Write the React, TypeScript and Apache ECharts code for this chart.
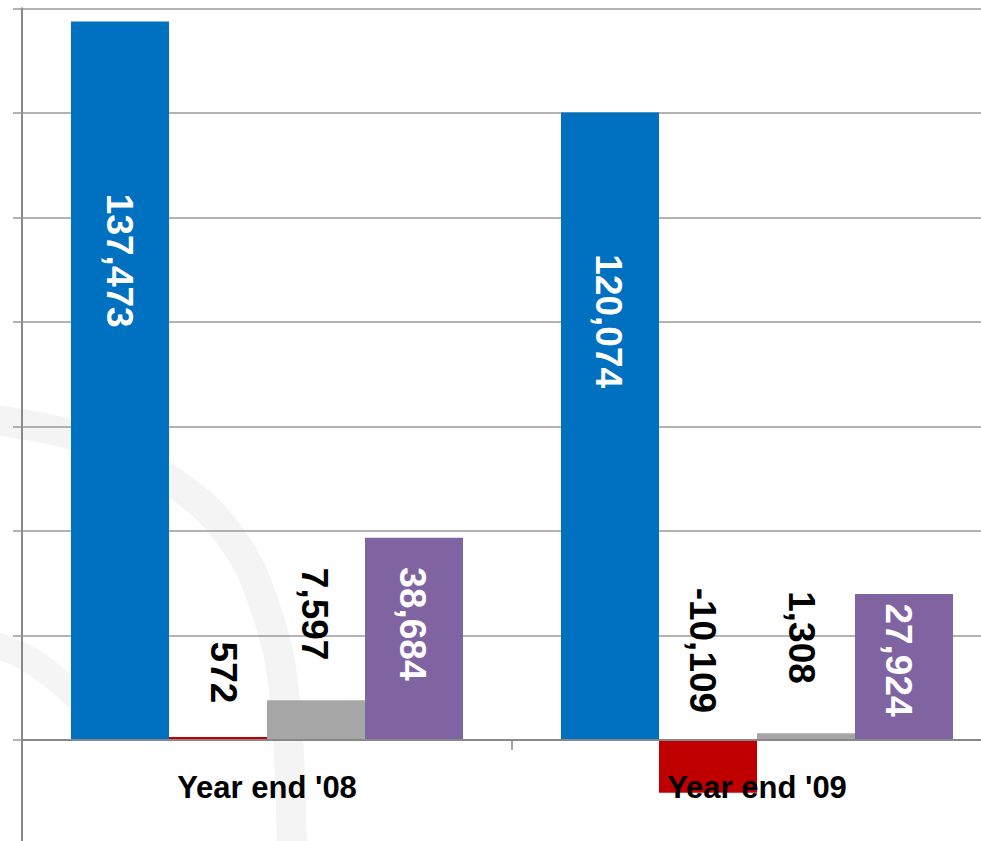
import React, { useEffect, useRef } from "react";
import * as echarts from "echarts";

const categories = ["Year end '08", "Year end '09"];
const seriesBlue = [137473, 120074];
const seriesRed = [572, -10109];
const seriesGray = [7597, 1308];
const seriesPurple = [38684, 27924];

const colors = ["#0070C0", "#C00000", "#A6A6A6", "#8064A2"];
// label shift from bar centre, screen pixels [dx, dy] per series / per category
const labelShift = [
  [[-1, -120], [-2, -105]],
  [[5, -66], [-6, -116]],
  [[-2, -106], [-5, -99]],
  [[-2, -15], [-6, -7]],
];
const labelColors = ["#ffffff", "#000000", "#000000", "#ffffff"];

export default function App() {
  const ref = useRef<HTMLDivElement>(null);
  useEffect(() => {
    if (!ref.current) return;
    const chart = echarts.init(ref.current, null, { renderer: "svg" });
    const all = [seriesBlue, seriesRed, seriesGray, seriesPurple];
    const series = all.map((vals, si) => ({
      type: "bar",
      barGap: "0%",
      barCategoryGap: "20%",
      z: 2,
      itemStyle: { color: colors[si] },
      data: vals.map((v, ci) => ({
        value: v,
        label: {
          show: true,
          position: "inside",
          rotate: -90,
          align: "center",
          verticalAlign: "middle",
          offset: [labelShift[si][ci][1], -labelShift[si][ci][0]],
          color: labelColors[si],
          fontSize: 37,
          fontWeight: "bold",
          fontFamily: "Liberation Sans, Arial, sans-serif",
          formatter: (p: any) => Number(p.value).toLocaleString("en-US"),
        },
      })),
    }));
    chart.setOption({
      animation: false,
      backgroundColor: "#ffffff",
      grid: {
        left: 22,
        right: 1,
        top: 8.3,
        bottom: 1.5,
        containLabel: false,
        outerBoundsMode: "none",
      },
      graphic: {
        elements: [
          {
            type: "polyline",
            z: -10,
            silent: true,
            shape: {
              points: [
                [-20, 418],
                [90, 440],
                [177, 485],
                [233, 540],
                [267, 613],
                [285, 700],
                [292, 860],
              ],
              smooth: 0.4,
            },
            style: { stroke: "#f4f4f4", lineWidth: 30, fill: null },
          },
          {
            type: "polyline",
            z: -10,
            silent: true,
            shape: {
              points: [
                [-20, 640],
                [30, 660],
                [80, 700],
              ],
              smooth: 0.4,
            },
            style: { stroke: "#f5f5f5", lineWidth: 26, fill: null },
          },
        ],
      },
      xAxis: {
        type: "category",
        data: categories,
        z: 10,
        axisLine: { show: true, onZero: true, lineStyle: { color: "#888888", width: 2 } },
        axisTick: { show: true, length: 10, lineStyle: { color: "#888888", width: 1.5 } },
        axisLabel: {
          color: "#000000",
          fontSize: 31,
          fontWeight: "bold",
          fontFamily: "Liberation Sans, Arial, sans-serif",
          margin: -72.5,
          lineHeight: 31,
        },
        splitLine: { show: false },
      },
      yAxis: {
        type: "value",
        min: -20000,
        max: 140000,
        interval: 20000,
        axisLine: { show: true, lineStyle: { color: "#888888", width: 2 } },
        axisTick: { show: true, length: 9, lineStyle: { color: "#999999", width: 1.5 } },
        axisLabel: { show: false },
        splitLine: { show: true, lineStyle: { color: "#9a9a9a", width: 1.5 } },
      },
      series,
    });
    return () => chart.dispose();
  }, []);
  return (
    <div
      ref={ref}
      style={{ position: "fixed", left: 0, top: 0, width: 1003, height: 846, background: "#fff" }}
    />
  );
}
